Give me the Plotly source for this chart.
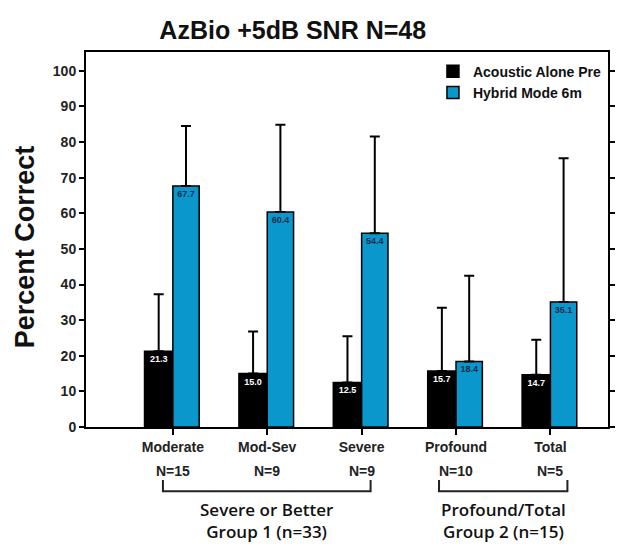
import plotly.graph_objects as go

categories = ["Moderate", "Mod-Sev", "Severe", "Profound", "Total"]
n_labels = ["N=15", "N=9", "N=9", "N=10", "N=5"]
acoustic = [21.3, 15.0, 12.5, 15.7, 14.7]
acoustic_err_top = [37.3, 26.8, 25.5, 33.5, 24.5]
hybrid = [67.7, 60.4, 54.4, 18.4, 35.1]
hybrid_err_top = [84.5, 84.9, 81.6, 42.5, 75.5]
y_ticks = [0, 10, 20, 30, 40, 50, 60, 70, 80, 90, 100]
group_names = [("Severe or Better", "Group 1 (n=33)"), ("Profound/Total", "Group 2 (n=15)")]
group_spans = [(0, 2), (3, 4)]

xs = list(range(len(categories)))
BW = 0.30
FONT = "Liberation Sans, Arial, sans-serif"
GFONT = "Open Sans, sans-serif"

fig = go.Figure()
fig.add_trace(go.Bar(
    x=xs, y=acoustic, name="Acoustic Alone Pre",
    width=BW, offset=-BW,
    marker=dict(color="black", line=dict(color="black", width=1.5)),
    text=[f"{v:.1f}" for v in acoustic], textposition="inside",
    insidetextanchor="end", textangle=0,
    textfont=dict(color="white", size=9, family=FONT, weight="bold"),
    error_y=dict(type="data", symmetric=False,
                 array=[t - v for t, v in zip(acoustic_err_top, acoustic)],
                 arrayminus=[0] * len(acoustic),
                 color="black", thickness=2, width=5),
))
fig.add_trace(go.Bar(
    x=xs, y=hybrid, name="Hybrid Mode 6m",
    width=BW * 0.93, offset=0,
    marker=dict(color="#0A98CC", line=dict(color="black", width=1.5)),
    text=[f"{v:.1f}" for v in hybrid], textposition="inside",
    insidetextanchor="end", textangle=0,
    textfont=dict(color="#1b2a4a", size=9, family=FONT, weight="bold"),
    error_y=dict(type="data", symmetric=False,
                 array=[t - v for t, v in zip(hybrid_err_top, hybrid)],
                 arrayminus=[0] * len(hybrid),
                 color="black", thickness=2, width=5),
))

fig.update_layout(
    width=619, height=538,
    margin=dict(l=78, r=17, t=44, b=119),
    plot_bgcolor="white", paper_bgcolor="white",
    barmode="overlay",
    showlegend=True,
    font=dict(family=FONT, color="#222"),
    title=dict(text="AzBio +5dB SNR N=48", x=0.46, xanchor="center",
               y=0.958, yanchor="middle",
               font=dict(size=25, family=FONT, color="#111", weight="bold")),
    legend=dict(x=0.998, y=0.99, xanchor="right", yanchor="top",
                bgcolor="rgba(0,0,0,0)", traceorder="normal",
                font=dict(size=14, family=FONT, color="#111", weight="bold"),
                tracegroupgap=0),
    xaxis=dict(range=[-0.92, 4.61], tickmode="array", tickvals=xs,
               ticktext=categories,
               showline=True, linecolor="black", linewidth=2, mirror=True,
               ticks="outside", ticklen=6, tickwidth=2, tickcolor="black",
               showgrid=False, zeroline=False,
               tickfont=dict(size=14, family=FONT, color="#222", weight="bold")),
    yaxis=dict(range=[0, 105.3], tickmode="array", tickvals=y_ticks,
               showline=True, linecolor="black", linewidth=2, mirror="ticks",
               ticks="outside", ticklen=5, tickwidth=2, tickcolor="black",
               showgrid=False, zeroline=False,
               tickfont=dict(size=14, family=FONT, color="#222", weight="bold")),
)

# y-axis title
fig.add_annotation(x=-0.1164, y=0.48, xref="paper", yref="paper",
                   text="Percent Correct", textangle=-90, showarrow=False,
                   xanchor="center", yanchor="middle",
                   font=dict(size=27, family=FONT, color="#111", weight="bold"))

# N labels under category names
for x, n in zip(xs, n_labels):
    fig.add_annotation(x=x, y=-0.117, xref="x", yref="paper", text=n,
                       showarrow=False, yanchor="middle",
                       font=dict(size=14, family=FONT, color="#222", weight="bold"))

# group brackets
pad = [(0.105, 0.095), (0.18, 0.18)]
y_top, y_bot = -0.141, -0.171
for (line1, line2), (a, b), (pl, pr) in zip(group_names, group_spans, pad):
    x0, x1 = a - pl, b + pr
    fig.add_shape(type="path", xref="x", yref="paper",
                  path=f"M {x0},{y_top} L {x0},{y_bot} L {x1},{y_bot} L {x1},{y_top}",
                  line=dict(color="#222", width=2))
    fig.add_annotation(x=(x0 + x1) / 2, y=-0.25, xref="x", yref="paper",
                       text=f"{line1}<br>{line2}", showarrow=False, yanchor="middle",
                       font=dict(size=17, family=GFONT, color="#111", weight=600))

fig.write_html("out.html")
